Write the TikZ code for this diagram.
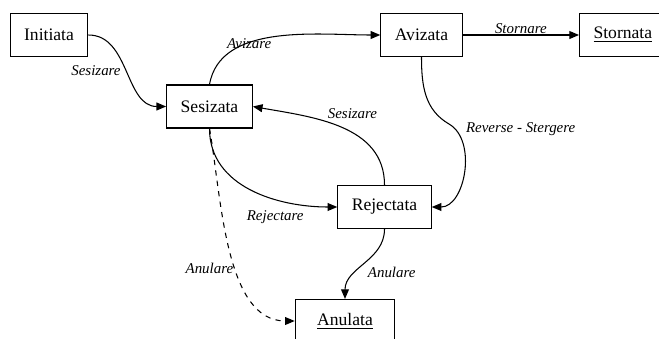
\documentclass[tikz,border=0pt]{standalone}
\usepackage{fontspec}
\setmainfont{Liberation Serif}
\usetikzlibrary{arrows.meta, positioning}

\begin{document}
\begin{tikzpicture}[x=0.02cm, y=0.02cm,
    state/.style={draw, line width=0.6pt, minimum height=24.5pt, inner xsep=8pt, font=\fontsize{10}{12}\selectfont},
    trans/.style={line width=0.6pt, -{Triangle[length=5.5pt,width=4.5pt]}},
    lbl/.style={font=\fontsize{8.5}{10}\selectfont\itshape, inner sep=1.5pt}]
\useasboundingbox (0,0) rectangle (659,-338);

% States
\node[state] (init) at (49,-35) {Initiata};
\node[state] (ses) at (209.5,-106.5) {Sesizata};
\node[state] (aviz) at (421.5,-35) {Avizata};
\node[state, anchor=west] (storn) at (579,-35) {\underline{Stornata}};
\node[state] (rej) at (384.5,-207) {Rejectata};
\node[state, minimum width=56.7pt] (anul) at (345,-321) {\underline{Anulata}};

% Transitions
\draw[trans] (init.east) to[out=0,in=180] node[lbl,pos=.5,left=2pt] (lsesA) {Sesizare} (ses.west);
\draw[trans] (ses.north) to[out=80,in=180,looseness=.9] node[lbl,pos=.36,above=-5.5pt] (laviz) {Avizare} (aviz.west);
\draw[trans] (aviz.east) -- node[lbl,above=-1pt] (lstorn) {Stornare} (storn.west);

\coordinate (kink) at (449,-124);
\draw[trans] (aviz.south) to[out=-90,in=150] (kink) to[out=-30,in=0] (rej.east);
\node[lbl, right=8pt of kink, yshift=-3pt] (lrev) {Reverse - Stergere};

\draw[trans] (rej.north) to[out=90,in=-10] node[lbl,pos=.6,above right] (lsesB) {Sesizare} (ses.east);
\draw[trans] (ses.south) to[out=-90,in=180] node[lbl,pos=.65,below=5pt] (lrej) {Rejectare} (rej.west);
\draw[trans, dashed] (ses.south) to[out=-80,in=180,looseness=.85] node[lbl,pos=.58,left] (lanulA) {Anulare} (anul.west);
\draw[trans] (rej.south) to[out=-90,in=90] node[lbl,midway,below right] (lanulB) {Anulare} (anul.north);
\end{tikzpicture}
\end{document}
